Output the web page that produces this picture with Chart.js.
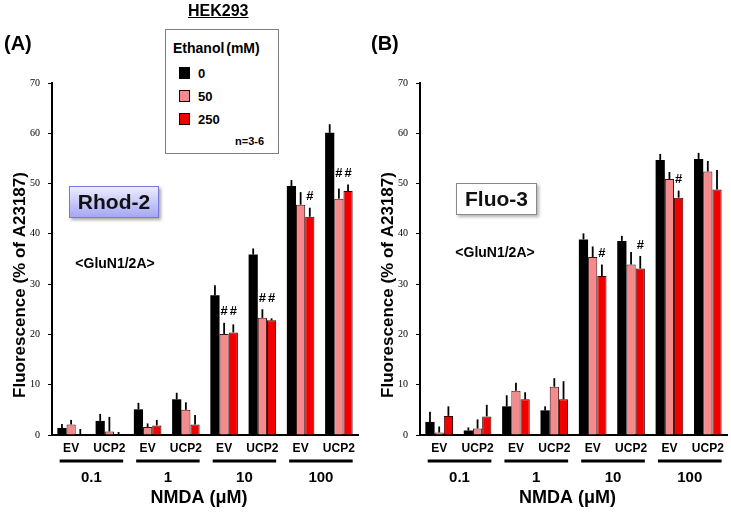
<!DOCTYPE html>
<html><head><meta charset="utf-8">
<script src="https://cdn.jsdelivr.net/npm/chart.js@4.4.0/dist/chart.umd.min.js"></script>
<style>
html,body{margin:0;padding:0;background:#fff;}
#wrap{position:relative;width:731px;height:512px;overflow:hidden;font-family:'Liberation Sans',Arial,sans-serif;color:#000;background:#fff;}
canvas{position:absolute;top:0;}
.t{position:absolute;white-space:nowrap;font-weight:bold;}
.sw{position:absolute;width:11px;height:12px;box-sizing:border-box;}
</style></head>
<body>
<div id="wrap">
  <canvas id="cA" width="362" height="512" style="left:0px"></canvas>
  <canvas id="cB" width="363" height="512" style="left:368px"></canvas>

  <div class="t" style="left:4px;top:33px;font-size:20px;line-height:20px;">(A)</div>
  <div class="t" style="left:371px;top:33px;font-size:20px;line-height:20px;">(B)</div>
  <div class="t" style="left:188px;top:3px;font-size:16px;line-height:16px;text-decoration:underline;">HEK293</div>

  <div id="legendBox" style="position:absolute;left:165px;top:29px;width:114px;height:125px;box-sizing:border-box;border:1px solid #7f7f7f;background:#fff;"></div>
  <div id="legendItems"></div>

  <div style="position:absolute;left:69px;top:186px;width:90px;height:32px;box-sizing:border-box;border:1px solid #7878e2;background:linear-gradient(#ececff,#a6a6f3);box-shadow:2px 2px 3px rgba(0,0,0,0.35);"></div>
  <div class="t" style="left:69px;top:186px;width:90px;height:32px;line-height:32px;text-align:center;font-size:21px;color:#111;">Rhod-2</div>
  <div class="t" style="left:65px;top:256px;width:100px;text-align:center;font-size:14px;line-height:14px;">&lt;GluN1/2A&gt;</div>

  <div style="position:absolute;left:456px;top:183px;width:81px;height:32px;box-sizing:border-box;border:1px solid #8a8a8a;background:#fff;box-shadow:2px 2px 3px rgba(0,0,0,0.3);"></div>
  <div class="t" style="left:456px;top:183px;width:81px;height:32px;line-height:32px;text-align:center;font-size:21px;color:#111;">Fluo-3</div>
  <div class="t" style="left:445px;top:245px;width:100px;text-align:center;font-size:14px;line-height:14px;">&lt;GluN1/2A&gt;</div>
</div>
<script>
// ---------- data ----------
const categories = ['EV','UCP2','EV','UCP2','EV','UCP2','EV','UCP2'];
const groupLabels = ['0.1','1','10','100'];
const seriesNames = ['0','50','250'];
const legendTitle = 'Ethanol (mM)';
const nNote = 'n=3-6';
const yTicks = [0,10,20,30,40,50,60,70];
const yTitle = 'Fluorescence (% of A23187)';
const xTitle = 'NMDA (\u03bcM)';

// Rhod-2 (A)
const rhod0    = [1.4, 2.8, 5.1, 7.1, 27.8, 35.9, 49.5, 60.1];
const rhod0Err = [0.8, 1.4, 1.3, 1.3, 2.0, 1.2, 1.2, 1.7];
const rhod50    = [2.1, 0.7, 1.6, 5.0, 20.1, 23.3, 45.8, 47.0];
const rhod50Err = [0.9, 2.9, 0.7, 1.5, 2.2, 1.7, 2.5, 2.0];
const rhod250    = [0.0, 0.0, 1.9, 2.1, 20.4, 22.8, 43.4, 48.5];
const rhod250Err = [1.2, 0.6, 1.1, 1.9, 1.6, 0.4, 1.8, 1.3];
const rhodHash50  = [0,0,0,0,1,1,0,1];
const rhodHash250 = [0,0,0,0,1,1,1,1];

// Fluo-3 (B)
const fluo0    = [2.6, 0.9, 5.7, 4.9, 38.9, 38.6, 54.7, 54.9];
const fluo0Err = [2.0, 0.6, 2.2, 0.8, 1.2, 1.0, 1.2, 1.2];
const fluo50    = [0.5, 1.3, 8.8, 9.6, 35.4, 33.9, 50.9, 52.4];
const fluo50Err = [1.2, 1.8, 1.6, 1.7, 2.1, 2.5, 1.4, 2.1];
const fluo250    = [3.8, 3.7, 7.1, 7.1, 31.6, 33.1, 47.2, 48.8];
const fluo250Err = [1.9, 2.3, 1.4, 3.6, 2.3, 2.5, 1.4, 3.9];
const fluoHash50  = [0,0,0,0,0,0,0,0];
const fluoHash250 = [0,0,0,0,1,1,1,0];

// ---------- style ----------
const colBlack = '#000000', colPink = '#F58A8C', colRed = '#F20000';
const fill = [colBlack, colPink, colRed];
const edge = ['#000000', '#3a1010', '#3a0000'];
const SANS = "'Liberation Sans', Arial, sans-serif";
const SERIF = "'Liberation Serif', 'Times New Roman', serif";

// legend (HTML)
(function(){
  const host = document.getElementById('legendItems');
  let h = '<div class="t" style="left:173px;top:41px;font-size:14px;line-height:14px;word-spacing:-2px;">'+legendTitle+'</div>';
  const tops = [67, 90, 113];
  seriesNames.forEach((s,i)=>{
    const border = i===0 ? 'none' : '1.5px solid #1a0000';
    h += '<div class="sw" style="left:179px;top:'+tops[i]+'px;background:'+fill[i]+';border:'+border+';"></div>';
    h += '<div class="t" style="left:198px;top:'+(tops[i])+'px;font-size:13px;line-height:13px;">'+s+'</div>';
  });
  h += '<div class="t" style="left:235px;top:136px;font-size:11px;line-height:11px;">'+nNote+'</div>';
  host.innerHTML = h;
})();

const decorPlugin = {
  id: 'decor',
  afterDatasetsDraw(chart, args, opts) {
    const ctx = chart.ctx, ys = chart.scales.y;
    const errs = opts.errs, hashes = opts.hashes;
    ctx.save();
    // error bars
    ctx.strokeStyle = '#000'; ctx.lineWidth = 1.8;
    chart.data.datasets.forEach((ds, di) => {
      const meta = chart.getDatasetMeta(di);
      meta.data.forEach((bar, j) => {
        const top = ys.getPixelForValue(ds.data[j] + errs[di][j]);
        ctx.beginPath();
        ctx.moveTo(bar.x, bar.y);
        ctx.lineTo(bar.x, top);
        ctx.stroke();
      });
    });
    // hash marks
    ctx.fillStyle = '#000';
    ctx.font = 'bold 13px ' + SANS;
    ctx.textAlign = 'center'; ctx.textBaseline = 'middle';
    for (let j = 0; j < categories.length; j++) {
      let minTop = Infinity; const marks = [];
      chart.data.datasets.forEach((ds, di) => {
        if (hashes[di] && hashes[di][j]) {
          const bar = chart.getDatasetMeta(di).data[j];
          const top = ys.getPixelForValue(ds.data[j] + errs[di][j]);
          minTop = Math.min(minTop, top);
          marks.push(bar.x);
        }
      });
      marks.forEach(x => ctx.fillText('#', x, minTop - 11));
    }
    ctx.restore();
  },
  afterDraw(chart) {
    const ctx = chart.ctx, xs = chart.scales.x, area = chart.chartArea;
    const catW = xs.width / categories.length;
    ctx.save();
    ctx.fillStyle = '#000'; ctx.strokeStyle = '#000';
    // group underline and labels
    groupLabels.forEach((g, gi) => {
      const x1 = xs.getPixelForValue(gi*2) - catW*0.30;
      const x2 = xs.getPixelForValue(gi*2+1) + catW*0.36;
      ctx.lineWidth = 3;
      ctx.beginPath(); ctx.moveTo(x1, 461); ctx.lineTo(x2, 461); ctx.stroke();
      ctx.font = 'bold 15px ' + SANS;
      ctx.textAlign = 'center'; ctx.textBaseline = 'middle';
      ctx.fillText(g, (x1+x2)/2, 478);
    });
    // x title
    ctx.font = 'bold 18px ' + SANS;
    ctx.textAlign = 'center'; ctx.textBaseline = 'middle';
    ctx.fillText(xTitle, (area.left + area.right)/2 - 6, 498);
    // y title
    ctx.translate(20.5, 285);
    ctx.rotate(-Math.PI/2);
    ctx.font = 'bold 17px ' + SANS;
    ctx.fillText(yTitle, 0, 0);
    ctx.restore();
  }
};

function makeChart(id, d0, e0, d50, e50, d250, e250, h50, h250) {
  const series = [d0, d50, d250];
  return new Chart(document.getElementById(id), {
    type: 'bar',
    data: {
      labels: categories,
      datasets: series.map((d, i) => ({
        label: seriesNames[i],
        data: d,
        backgroundColor: fill[i],
        borderColor: edge[i],
        borderWidth: i === 0 ? 0 : 1,
        borderSkipped: 'start',
        categoryPercentage: 0.72,
        barPercentage: 1.0
      }))
    },
    options: {
      responsive: false,
      animation: false,
      devicePixelRatio: 1,
      layout: { padding: { top: 83, right: 4, left: 0, bottom: 0 } },
      plugins: {
        legend: { display: false },
        tooltip: { enabled: false },
        decor: { errs: [e0, e50, e250], hashes: [null, h50, h250] }
      },
      scales: {
        x: {
          grid: { display: false, drawTicks: false, tickLength: 0 },
          border: { display: true, color: '#000', width: 2 },
          ticks: { color: '#000', font: { family: SANS, size: 12, weight: 'bold' }, padding: 6, maxRotation: 0, autoSkip: false },
          afterFit: s => { s.height = 77; }
        },
        y: {
          min: 0, max: 70,
          afterBuildTicks: s => { s.ticks = yTicks.map(v => ({ value: v })); },
          grid: { drawOnChartArea: false, drawTicks: true, tickLength: 4, color: '#000', lineWidth: 1 },
          border: { display: true, color: '#000', width: 2 },
          ticks: { color: '#000', font: { family: SERIF, size: 10 }, padding: 8 },
          afterFit: s => { s.width = 52; }
        }
      }
    },
    plugins: [decorPlugin]
  });
}

makeChart('cA', rhod0, rhod0Err, rhod50, rhod50Err, rhod250, rhod250Err, rhodHash50, rhodHash250);
makeChart('cB', fluo0, fluo0Err, fluo50, fluo50Err, fluo250, fluo250Err, fluoHash50, fluoHash250);
</script>
</body></html>
